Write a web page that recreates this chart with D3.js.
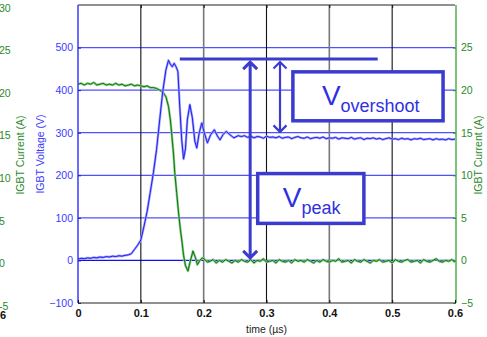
<!DOCTYPE html>
<html>
<head>
<meta charset="utf-8">
<script src="https://cdn.jsdelivr.net/npm/d3@7"></script>
<style>
	body { margin: 0; background: white; }
	svg { display: block; font-family: "Liberation Sans", Arial, sans-serif; }
</style>
</head>
<body>
<svg id="chart" width="487" height="337"></svg>
<script>
// voltage trace (V), time in us
const voltageHeadStart = 0, voltageHeadStep = 0.005;
const voltageHead = [3, 5, 4, 6, 5, 7, 6, 8, 7, 9, 8, 10, 9, 11, 10, 12, 13];
const voltageEdge = [
	[0.085, 16], [0.09, 26], [0.095, 36], [0.1, 48], [0.105, 80], [0.11, 115], [0.115, 160],
	[0.12, 206], [0.125, 260], [0.13, 330], [0.135, 398], [0.14, 448], [0.144, 470], [0.147, 461],
	[0.15, 455], [0.153, 463], [0.156, 455], [0.159, 444], [0.162, 360], [0.165, 285], [0.168, 238],
	[0.171, 262], [0.174, 330], [0.178, 366], [0.182, 335], [0.186, 280], [0.189, 264], [0.193, 300],
	[0.197, 323], [0.201, 300], [0.206, 276], [0.211, 295], [0.217, 307], [0.222, 292], [0.226, 283],
	[0.231, 296], [0.236, 303], [0.242, 295], [0.248, 288], [0.255, 293],
];
const voltageTailStart = 0.26, voltageTailStep = 0.005;
const voltageTail = [
	291, 293, 289, 292, 288, 291, 290, 287, 292, 289,
	290, 288, 291, 287, 289, 290, 286, 289, 291, 288,
	287, 290, 286, 288, 289, 287, 290, 286, 288, 287,
	289, 285, 288, 287, 286, 289, 285, 287, 288, 284,
	287, 286, 288, 285, 287, 284, 286, 288, 285, 286,
	284, 287, 285, 286, 283, 286, 285, 287, 284, 285,
	286, 283, 286, 284, 285, 283, 286, 284, 285,
];

// current trace (A)
const currentHeadStart = 0, currentHeadStep = 0.005;
const currentHead = [
	20.7, 20.8, 20.6, 20.8, 20.7, 20.9, 20.6, 20.7, 20.8, 20.6, 20.7, 20.6, 20.8,
	20.6, 20.7, 20.5, 20.6, 20.7, 20.5, 20.6, 20.5, 20.4, 20.5, 20.3, 20.3,
];
const currentEdge = [
	[0.125, 20.2], [0.13, 20.0], [0.135, 19.8], [0.14, 19.2], [0.144, 18.1], [0.147, 16.5],
	[0.149, 15], [0.152, 12.5], [0.154, 10.3], [0.157, 8], [0.16, 5.6], [0.163, 3.6], [0.165, 2.5],
	[0.168, 0.6], [0.171, -0.6], [0.175, -1.25], [0.178, -0.3], [0.183, 1.1], [0.187, 0.3],
	[0.19, -0.5], [0.194, 0], [0.198, 0.3], [0.202, 0.1], [0.206, -0.2],
];
const currentTailStart = 0.21, currentTailStep = 0.005;
const currentTail = [
	-0.1, 0.1, -0.3, 0.0, -0.2, 0.1, -0.1, -0.3, 0.0, -0.2,
	0.1, -0.1, -0.2, 0.1, -0.3, 0.0, -0.1, 0.2, -0.2, -0.1,
	0.0, -0.3, 0.1, -0.1, -0.2, 0.0, -0.3, 0.1, -0.1, 0.0,
	-0.2, 0.1, -0.1, -0.3, 0.0, -0.2, 0.1, -0.1, -0.2, 0.0,
	-0.1, 0.2, -0.2, -0.1, 0.0, -0.3, 0.1, -0.1, -0.2, 0.1,
	-0.1, -0.3, 0.0, -0.1, 0.1, -0.2, -0.1, 0.0, -0.3, 0.1,
	-0.1, -0.2, 0.0, 0.1, -0.2, -0.1, 0.0, -0.3, 0.1, -0.1,
	-0.2, 0.0, 0.2, -0.1, -0.2, 0.0, -0.1, 0.1, -0.2,
];

const timeTicks = [0, 0.1, 0.2, 0.3, 0.4, 0.5, 0.6];
const voltageTicks = [-100, 0, 100, 200, 300, 400, 500];
const currentTicks = [-5, 0, 5, 10, 15, 20, 25];
const currentTicksLeft = [-5, 0, 5, 10, 15, 20, 25, 30];

// annotation anchors, in data units
const peakLevel = 473;
const overshootArrow = { t: 0.3215, from: 473, to: 302 };
const peakArrow = { t: 0.274, from: 473, to: 6 };
const peakLine = [0.162, 0.477];
const overshootBox = { t0: 0.342, t1: 0.581, v0: 443, v1: 328 };
const peakBox = { t0: 0.286, t1: 0.455, v0: 204, v1: 87 };

function series(start, step, values) {
	return values.map((v, i) => [start + i * step, v]);
}

const voltageData = series(voltageHeadStart, voltageHeadStep, voltageHead)
	.concat(voltageEdge, series(voltageTailStart, voltageTailStep, voltageTail));
const currentData = series(currentHeadStart, currentHeadStep, currentHead)
	.concat(currentEdge, series(currentTailStart, currentTailStep, currentTail));

const svg = d3.select('#chart');
const x = d3.scaleLinear().domain([0, 0.6]).range([78, 455]);
const yV = d3.scaleLinear().domain([-100, 600]).range([303, 5]);
const yI = d3.scaleLinear().domain([-5, 30]).range([303, 5]);

const blue = '#3a3aff';
const green = '#2a8a2a';
const annot = '#3b3bcf';

// grid
svg.append('g').selectAll('line').data(voltageTicks.filter((d) => d >= 0)).enter().append('line')
	.attr('x1', x(0)).attr('x2', x(0.6))
	.attr('y1', (d) => yV(d)).attr('y2', (d) => yV(d))
	.attr('stroke', (d) => d === 0 ? '#1010ee' : '#5050ff')
	.attr('stroke-width', 1.3);
svg.append('g').selectAll('line').data(timeTicks.slice(1, -1)).enter().append('line')
	.attr('x1', (d) => x(d)).attr('x2', (d) => x(d))
	.attr('y1', yV(600)).attr('y2', yV(-100))
	.attr('stroke', (d, i) => i % 2 ? '#777' : '#111')
	.attr('stroke-width', (d, i) => i % 2 ? 1.6 : 1.1);

// frame
svg.append('line').attr('x1', x(0)).attr('x2', x(0.6)).attr('y1', yV(600)).attr('y2', yV(600))
	.attr('stroke', '#222').attr('stroke-width', 1.2);
svg.append('line').attr('x1', x(0)).attr('x2', x(0.6)).attr('y1', yV(-100)).attr('y2', yV(-100))
	.attr('stroke', '#222').attr('stroke-width', 1.2);

// traces
const voltageLine = d3.line().x((d) => x(d[0])).y((d) => yV(d[1]));
const currentLine = d3.line().x((d) => x(d[0])).y((d) => yI(d[1]));
svg.append('path').attr('d', currentLine(currentData)).attr('fill', 'none')
	.attr('stroke', '#8cc88c').attr('stroke-width', 2.4).attr('stroke-linejoin', 'round');
svg.append('path').attr('d', currentLine(currentData)).attr('fill', 'none')
	.attr('stroke', '#0a7a0a').attr('stroke-width', 1).attr('stroke-linejoin', 'round');
svg.append('path').attr('d', voltageLine(voltageData)).attr('fill', 'none')
	.attr('stroke', '#a0a0ff').attr('stroke-width', 2.4).attr('stroke-linejoin', 'round');
svg.append('path').attr('d', voltageLine(voltageData)).attr('fill', 'none')
	.attr('stroke', '#2020f0').attr('stroke-width', 1).attr('stroke-linejoin', 'round');

// axes
const axisL = svg.append('g').attr('transform', `translate(${x(0)},0)`)
	.call(d3.axisLeft(yV).tickValues(voltageTicks).tickSize(-3).tickPadding(5));
axisL.select('.domain').attr('stroke', blue).attr('stroke-width', 1.5).attr('d', `M0,${yV(600)}V${yV(-100)}`);
axisL.selectAll('.tick line').attr('stroke', '#2020a0');
axisL.selectAll('text').attr('fill', blue).attr('font-size', 10.5).attr('font-family', 'Liberation Sans, Arial');

const axisR = svg.append('g').attr('transform', `translate(${x(0.6) + 1},0)`)
	.call(d3.axisRight(yI).tickValues(currentTicks).tickSize(-3).tickPadding(5));
axisR.select('.domain').attr('stroke', '#7cc47c').attr('stroke-width', 2).attr('d', `M0,${yI(30)}V${yI(-5)}`);
axisR.selectAll('.tick line').attr('stroke', green);
axisR.selectAll('text').attr('fill', green).attr('font-size', 10.5).attr('font-family', 'Liberation Sans, Arial');

const axisB = svg.append('g').attr('transform', `translate(0,${yV(-100)})`)
	.call(d3.axisBottom(x).tickValues(timeTicks).tickFormat(d3.format('')).tickSize(-3).tickPadding(6));
axisB.select('.domain').remove();
axisB.selectAll('.tick line').attr('stroke', '#111');
axisB.selectAll('text').attr('fill', '#111').attr('font-size', 11).attr('font-weight', 'bold')
	.attr('font-family', 'Liberation Sans, Arial');

const axisT = svg.append('g').attr('transform', `translate(0,${yV(600)})`)
	.call(d3.axisTop(x).tickValues(timeTicks.slice(1, -1)).tickFormat('').tickSize(-3));
axisT.select('.domain').remove();
axisT.selectAll('.tick line').attr('stroke', '#111');

// stray copy of the current axis at the left edge
svg.append('g').selectAll('text').data(currentTicksLeft).enter().append('text')
	.attr('x', -1).attr('y', (d) => yI(d) + 3).attr('dy', '0.35em')
	.attr('fill', green).attr('font-size', 10.5).text((d) => d);
svg.append('text').attr('x', 6).attr('y', 319).attr('text-anchor', 'end')
	.attr('fill', '#111').attr('font-size', 11).attr('font-weight', 'bold').text('0.6');

// axis titles
svg.append('text').attr('transform', `translate(24,155) rotate(-90)`).attr('text-anchor', 'middle')
	.attr('fill', green).attr('font-size', 10.5).text('IGBT Current (A)');
svg.append('text').attr('transform', `translate(44,154) rotate(-90)`).attr('text-anchor', 'middle')
	.attr('fill', blue).attr('font-size', 10.5).text('IGBT Voltage (V)');
svg.append('text').attr('transform', `translate(482,155) rotate(-90)`).attr('text-anchor', 'middle')
	.attr('fill', green).attr('font-size', 10.5).text('IGBT Current (A)');
svg.append('text').attr('x', x(0.3)).attr('y', 333).attr('text-anchor', 'middle')
	.attr('fill', '#222').attr('font-size', 10.5).text('time (\u00b5s)');

// annotations
const ann = svg.append('g').attr('stroke', annot).attr('fill', 'none').attr('stroke-linecap', 'butt');
ann.append('line').attr('x1', x(peakLine[0])).attr('x2', x(peakLine[1]))
	.attr('y1', yV(peakLevel)).attr('y2', yV(peakLevel)).attr('stroke-width', 3);

function arrow(a, w, head) {
	const ax = x(a.t), y1 = yV(a.from) + 3, y2 = yV(a.to);
	ann.append('line').attr('x1', ax).attr('x2', ax).attr('y1', y1).attr('y2', y2).attr('stroke-width', w);
	ann.append('path').attr('d', `M${ax - head},${y1 + head}L${ax},${y1}L${ax + head},${y1 + head}`).attr('stroke-width', w);
	ann.append('path').attr('d', `M${ax - head},${y2 - head}L${ax},${y2}L${ax + head},${y2 - head}`).attr('stroke-width', w);
}
arrow(peakArrow, 3, 7);
arrow(overshootArrow, 2.2, 6.5);

function box(b) {
	ann.append('rect').attr('x', x(b.t0)).attr('y', yV(b.v0))
		.attr('width', x(b.t1) - x(b.t0)).attr('height', yV(b.v1) - yV(b.v0))
		.attr('fill', 'white').attr('stroke-width', 3.5);
}
box(overshootBox);
box(peakBox);

function label(b, sub, dx) {
	const t = svg.append('text').attr('x', x(b.t0) + dx).attr('y', yV(b.v1) - 16)
		.attr('fill', '#3030e0').attr('font-size', 28);
	t.append('tspan').text('V');
	t.append('tspan').attr('font-size', 18).attr('dy', 7).text(sub);
}
label(overshootBox, 'overshoot', 29);
label(peakBox, 'peak', 25);
</script>
</body>
</html>
